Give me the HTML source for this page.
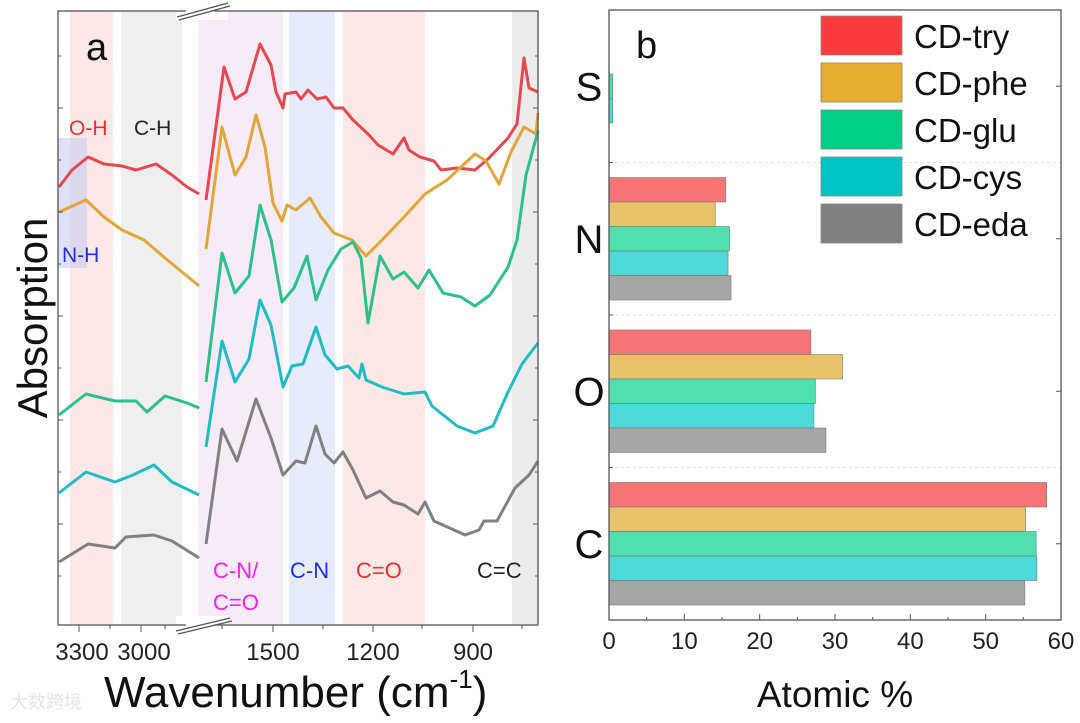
<!DOCTYPE html>
<html><head><meta charset="utf-8"><style>
html,body{margin:0;padding:0;background:#fff;}
svg{display:block;font-family:"Liberation Sans",Arial,sans-serif;}
</style></head><body>
<svg id="fig" width="1080" height="723" viewBox="0 0 1080 723" xmlns="http://www.w3.org/2000/svg">
<g id="pa"></g>
<g id="pb"></g>
</svg>
<script>
// ---------- Panel a data (FTIR) ----------
const tryRW=[1701,1647,1614,1581,1539,1506,1491,1470,1464,1431,1416,1395,1368,1341,1317,1290,1260,1215,1185,1140,1107,1092,1059,1017,996,948,894,855,795,768,747,732,705];
const tryRA=[400,533,501,508,556,535,508,492,506,508,501,510,501,503,492,492,480,466,455,446,462,450,443,439,430,432,430,441,462,476,542,512,508];
const tryLW=[3397,3334,3256,3179,3092,3024,2927,2850,2777,2719];
const tryLA=[413,430,443,436,434,430,436,425,413,406];
const pheRW=[1701,1653,1614,1581,1551,1524,1500,1473,1458,1431,1389,1356,1317,1263,1221,1173,1107,1044,978,894,861,822,786,747,711,705];
const pheRA=[351,473,425,443,485,453,397,379,395,390,402,383,367,360,344,360,383,406,420,446,439,416,448,473,466,487];
const pheLW=[3397,3266,3179,3092,2985,2884,2719];
const pheLA=[388,400,383,370,360,342,314];
const gluRW=[1701,1653,1614,1572,1539,1506,1473,1437,1398,1371,1335,1296,1260,1236,1215,1200,1179,1140,1107,1065,1032,990,936,894,849,795,768,741,705];
const gluRA=[218,347,307,324,395,360,298,312,344,300,330,351,358,342,277,305,344,321,328,312,330,307,303,294,305,333,360,425,469];
const gluLW=[3397,3266,3126,3024,2971,2884,2777,2719];
const gluLA=[185,206,199,199,188,204,197,192];
const cysRW=[1701,1653,1614,1572,1539,1506,1470,1443,1410,1371,1344,1308,1275,1242,1233,1221,1173,1107,1044,1023,948,894,840,795,753,705];
const cysRA=[153,259,218,241,300,275,213,234,236,273,245,231,234,222,236,220,213,206,208,194,174,167,174,208,236,257];
const cysLW=[3397,3266,3126,3039,2937,2850,2719];
const cysLA=[107,128,118,125,135,118,105];
const edaRW=[1701,1653,1608,1551,1506,1470,1431,1404,1371,1344,1317,1290,1260,1221,1179,1140,1107,1065,1044,1017,957,924,882,867,828,774,732,705];
const edaRA=[56,171,139,201,162,125,139,137,174,146,137,148,130,102,109,98,95,86,98,79,70,65,70,79,79,112,125,139];
const edaLW=[3397,3256,3126,3073,2937,2850,2719];
const edaLA=[38,56,52,63,65,59,42];
const xTicksL=[3300,3000];
const xTicksR=[1500,1200,900];

// ---------- Panel b data ----------
const elements=["S","N","O","C"];
const seriesNames=["CD-try","CD-phe","CD-glu","CD-cys","CD-eda"];
const valTry=[0,15.5,26.8,58.1];
const valPhe=[0,14.1,31.0,55.3];
const valGlu=[0.5,16.0,27.4,56.7];
const valCys=[0.5,15.8,27.2,56.8];
const valEda=[0,16.2,28.8,55.2];
const bTicks=[0,10,20,30,40,50,60];

const NS="http://www.w3.org/2000/svg";
function mk(p,tag,at,txt){const e=document.createElementNS(NS,tag);for(const k in at)e.setAttribute(k,at[k]);if(txt!==undefined)e.textContent=txt;p.appendChild(e);return e;}
const pa=document.getElementById('pa'), pb=document.getElementById('pb');

const L=58,R=538,T=11,B=625;
const xL=w=>79+(3300-w)*62/300;
const xR=w=>273+(1500-w)/3;
const yA=a=>600-a;

const bands=[[70,113,'#fde8e8'],[121,182,'#efefef'],[198,283,'#f8ebf8'],[289,335,'#e6ecfb'],[343,425,'#fde8e6'],[512,538,'#ececec']];
const bandNames=['oh-band','ch-band','cn-co-band','cn-band','co-band','cc-band'];
bands.forEach((b,i)=>{const r=mk(pa,'rect',{x:b[0],y:T,width:b[1]-b[0],height:B-T,fill:b[2]});

});
let nh=mk(pa,'rect',{x:58,y:138,width:29,height:130,fill:'#c9cdf0',opacity:0.6});



const series=[['try',tryLW,tryLA,tryRW,tryRA,'#e8474f'],['phe',pheLW,pheLA,pheRW,pheRA,'#e0a63a'],['glu',gluLW,gluLA,gluRW,gluRA,'#2cc08a'],['cys',cysLW,cysLA,cysRW,cysRA,'#1fbcc4'],['eda',edaLW,edaLA,edaRW,edaRA,'#808080']];
series.forEach(s=>{
  const pl=s[1].map((w,i)=>xL(w).toFixed(1)+','+yA(s[2][i])).join(' ');
  const pr=s[3].map((w,i)=>xR(w).toFixed(1)+','+yA(s[4][i])).join(' ');
  const a=mk(pa,'polyline',{points:pl,fill:'none',stroke:s[5],'stroke-width':3,'stroke-linejoin':'round'});
  
  
  const b=mk(pa,'polyline',{points:pr,fill:'none',stroke:s[5],'stroke-width':3,'stroke-linejoin':'round'});
  
  
});

mk(pa,'rect',{x:L,y:T,width:R-L,height:B-T,fill:'none',stroke:'#555','stroke-width':1.3});
mk(pa,'rect',{x:176,y:0,width:52,height:20,fill:'#fff'});
mk(pa,'rect',{x:176,y:616,width:52,height:18,fill:'#fff'});
mk(pa,'line',{x1:176,y1:T,x2:186,y2:T,stroke:'#555','stroke-width':1.3});
mk(pa,'line',{x1:214,y1:T,x2:228,y2:T,stroke:'#555','stroke-width':1.3});
mk(pa,'line',{x1:176,y1:B,x2:186,y2:B,stroke:'#555','stroke-width':1.3});
mk(pa,'line',{x1:214,y1:B,x2:228,y2:B,stroke:'#555','stroke-width':1.3});
[[177,17,228,3],[179,20,230,6],[176,631,230,618],[178,634,232,621]].forEach(l=>mk(pa,'line',{x1:l[0],y1:l[1],x2:l[2],y2:l[3],stroke:'#555','stroke-width':1.3}));
for(let y=108;y<B;y+=104){mk(pa,'line',{x1:L,y1:y,x2:L+5,y2:y,stroke:'#555'});mk(pa,'line',{x1:R,y1:y,x2:R-5,y2:y,stroke:'#555'});}
for(let y=56;y<B;y+=104){mk(pa,'line',{x1:L,y1:y,x2:L+3,y2:y,stroke:'#555'});mk(pa,'line',{x1:R,y1:y,x2:R-3,y2:y,stroke:'#555'});}
[110,165,222,323,422,522].forEach(x=>mk(pa,'line',{x1:x,y1:B,x2:x,y2:B+4,stroke:'#555'}));
xTicksL.forEach(w=>{mk(pa,'line',{x1:xL(w),y1:B,x2:xL(w),y2:B+7,stroke:'#555'});
 const t=mk(pa,'text',{x:xL(w)+3,y:660,'font-size':24,'text-anchor':'middle',fill:'#222'},String(w));
 
 });
xTicksR.forEach(w=>{mk(pa,'line',{x1:xR(w),y1:B,x2:xR(w),y2:B+7,stroke:'#555'});
 const t=mk(pa,'text',{x:xR(w),y:660,'font-size':24,'text-anchor':'middle',fill:'#222'},String(w));
 
 });

function lab(p,x,y,s,c,fs,name,anchor){const t=mk(p,'text',{x:x,y:y,'font-size':fs,fill:c,'text-anchor':anchor||'start'},s);return t;}
lab(pa,86,60,'a','#111',38,'panel-label-a');
lab(pa,69,135,'O-H','#e83030',21,'oh-label');
lab(pa,134,135,'C-H','#222',21,'ch-label');
lab(pa,62,262,'N-H','#2030e0',21,'nh-label');
lab(pa,213,578,'C-N/','#f020f0',22,'cn-co-label');
lab(pa,213,610,'C=O','#f020f0',22,'cn-co-label-2');
lab(pa,290,578,'C-N','#2030e0',22,'cn-label');
lab(pa,356,578,'C=O','#e83030',22,'co-label');
lab(pa,477,578,'C=C','#222',22,'cc-label');
const ya=lab(pa,0,0,'Absorption','#111',42,'y-axis-title','middle');ya.setAttribute('transform','translate(47,318) rotate(-90)');
const xa=lab(pa,104,707,'Wavenumber (cm','#111',44,'x-axis-title');
const sup=mk(xa,'tspan',{'font-size':26,dy:-19},'-1');
const par=mk(xa,'tspan',{dy:19},')');
lab(pa,10,708,'大数跨境','#e5e5e5',18,'watermark');

// ---------- panel b ----------
const bl=609,br=1061,bt=10,bbt=620;
const xb=v=>bl+(br-bl)*v/60;
const bandH=(bbt-bt)/4;
const fills=['#f87575','#e8c36a','#4ee0ad','#4dd8da','#a6a6a6'];
const vals=[valTry,valPhe,valGlu,valCys,valEda];
for(let i=1;i<4;i++)mk(pb,'line',{x1:bl,y1:bt+i*bandH,x2:br,y2:bt+i*bandH,stroke:'#ddd','stroke-dasharray':'3,3'});
elements.forEach((el,ci)=>{
  const top=bt+ci*bandH+15, bh=(bandH-30)/5;
  vals.forEach((arr,si)=>{
    if(arr[ci]<=0)return;
    const r=mk(pb,'rect',{x:bl,y:top+si*bh,width:xb(arr[ci])-bl,height:bh,fill:fills[si],stroke:'#777','stroke-width':0.6});
    
    
  });
  lab(pb,589,bt+ci*bandH+bandH/2+14,el,'#111',40,'y-category-'+el,'middle');
  mk(pb,'line',{x1:bl,y1:bt+ci*bandH,x2:bl+4,y2:bt+ci*bandH,stroke:'#555'});
  mk(pb,'line',{x1:br,y1:bt+ci*bandH+bandH/2,x2:br-5,y2:bt+ci*bandH+bandH/2,stroke:'#555'});
});
mk(pb,'rect',{x:bl,y:bt,width:br-bl,height:bbt-bt,fill:'none',stroke:'#555','stroke-width':1.3});
bTicks.forEach(v=>{mk(pb,'line',{x1:xb(v),y1:bbt,x2:xb(v),y2:bbt-6,stroke:'#555'});
  mk(pb,'line',{x1:xb(v+5),y1:bbt,x2:xb(v+5),y2:bbt-3,stroke:'#555'});
  lab(pb,xb(v),649,String(v),'#222',24,'x-tick-label','middle');});
lab(pb,636,58,'b','#111',38,'panel-label-b');
lab(pb,835,707,'Atomic %','#111',37,'x-axis-title-b','middle');
const legC=['#fa3c3c','#e6ad2e','#00d084','#00c4c4','#808080'];
seriesNames.forEach((n,i)=>{
  const g=mk(pb,'g',{});
  
  
  mk(g,'rect',{x:821,y:16+i*47,width:81,height:39,fill:legC[i],stroke:'#888','stroke-width':0.8});
  mk(g,'text',{x:914,y:48+i*47,'font-size':33,fill:'#111'},n);
});
</script>
</body></html>
